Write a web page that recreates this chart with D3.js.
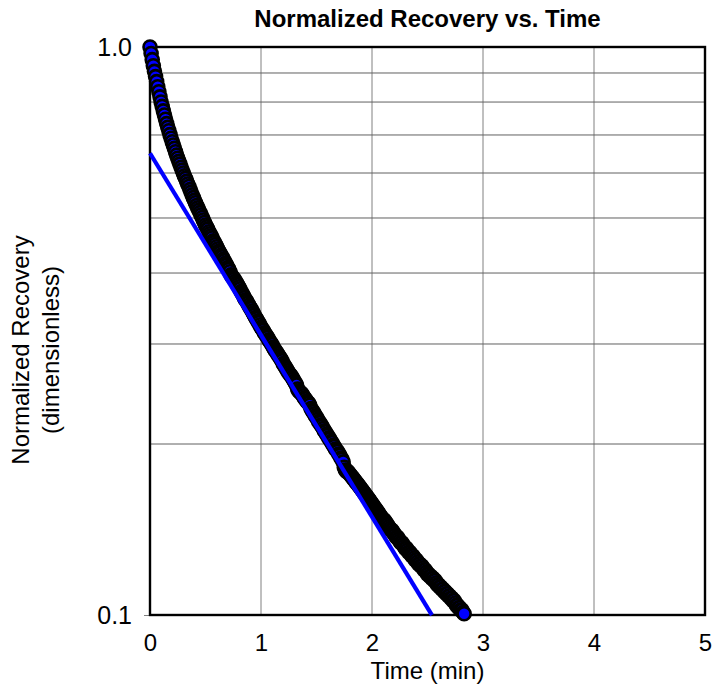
<!DOCTYPE html>
<html>
<head>
<meta charset="utf-8">
<script src="https://cdn.jsdelivr.net/npm/d3@7"></script>
<style>
  body { margin: 0; background: #fff; }
  text { font-family: "Liberation Sans", Arial, sans-serif; fill: #000; }
</style>
</head>
<body>
<script>
// readings were logged every 0.01 min
const sampleStep = 0.01;

// normalized recovery, one row per 0.1 min
const recovery = [
  1.000, 0.974, 0.950, 0.927, 0.906, 0.887, 0.869, 0.851, 0.834, 0.817,
  0.800, 0.786, 0.772, 0.759, 0.746, 0.733, 0.722, 0.712, 0.701, 0.691,
  0.681, 0.672, 0.663, 0.654, 0.645, 0.637, 0.629, 0.622, 0.614, 0.607,
  0.600, 0.593, 0.587, 0.580, 0.574, 0.568, 0.561, 0.555, 0.549, 0.543,
  0.537, 0.532, 0.526, 0.521, 0.516, 0.511, 0.506, 0.501, 0.496, 0.491,
  0.486, 0.482, 0.478, 0.473, 0.469, 0.465, 0.461, 0.456, 0.453, 0.449,
  0.445, 0.441, 0.437, 0.434, 0.430, 0.427, 0.423, 0.420, 0.416, 0.413,
  0.409, 0.406, 0.402, 0.397, 0.394, 0.392, 0.390, 0.387, 0.384, 0.381,
  0.378, 0.375, 0.371, 0.368, 0.365, 0.362, 0.359, 0.357, 0.354, 0.351,
  0.348, 0.346, 0.343, 0.340, 0.337, 0.334, 0.332, 0.329, 0.327, 0.324,
  0.321, 0.319, 0.317, 0.314, 0.312, 0.310, 0.308, 0.305, 0.303, 0.301,
  0.299, 0.296, 0.294, 0.292, 0.290, 0.288, 0.286, 0.284, 0.282, 0.280,
  0.277, 0.275, 0.273, 0.271, 0.269, 0.267, 0.265, 0.264, 0.262, 0.260,
  0.258, 0.256, 0.254, 0.250, 0.248, 0.247, 0.246, 0.245, 0.243, 0.241,
  0.240, 0.238, 0.237, 0.236, 0.234, 0.231, 0.229, 0.228, 0.226, 0.224,
  0.223, 0.221, 0.219, 0.218, 0.216, 0.215, 0.213, 0.211, 0.210, 0.208,
  0.207, 0.205, 0.204, 0.202, 0.201, 0.199, 0.198, 0.196, 0.195, 0.194,
  0.192, 0.191, 0.189, 0.188, 0.186, 0.182, 0.180, 0.179, 0.179, 0.178,
  0.177, 0.176, 0.175, 0.174, 0.173, 0.172, 0.171, 0.170, 0.169, 0.168,
  0.167, 0.166, 0.165, 0.164, 0.163, 0.162, 0.161, 0.160, 0.159, 0.158,
  0.157, 0.156, 0.155, 0.154, 0.153, 0.152, 0.151, 0.150, 0.149, 0.148,
  0.147, 0.147, 0.146, 0.145, 0.144, 0.143, 0.142, 0.141, 0.141, 0.140,
  0.139, 0.138, 0.137, 0.137, 0.136, 0.135, 0.134, 0.134, 0.133, 0.132,
  0.131, 0.131, 0.130, 0.129, 0.129, 0.128, 0.127, 0.127, 0.126, 0.125,
  0.125, 0.124, 0.123, 0.123, 0.122, 0.122, 0.121, 0.120, 0.120, 0.119,
  0.118, 0.118, 0.117, 0.117, 0.116, 0.116, 0.115, 0.115, 0.114, 0.113,
  0.113, 0.112, 0.112, 0.111, 0.111, 0.110, 0.110, 0.109, 0.109, 0.108,
  0.108, 0.107, 0.107, 0.106, 0.106, 0.105, 0.104, 0.104, 0.103, 0.103,
  0.102, 0.102, 0.101, 0.1005
];

// exponential fit  y = fitA * exp(-fitK * t), drawn between these times
const fitA = 0.65;
const fitK = 0.737;
const fitTimes = [0, 2.54];

const xTicks = [0, 1, 2, 3, 4, 5];
const yTicks = [0.1, 1.0];
const yGrid = [0.2, 0.3, 0.4, 0.5, 0.6, 0.7, 0.8, 0.9];

const w = 713;
const h = 690;
const plotLeft = 150, plotRight = 705, plotTop = 47, plotBottom = 615;

const svg = d3.select("body")
  .append("svg")
  .attr("width", w)
  .attr("height", h);

const xScale = d3.scaleLinear().domain([0, 5]).range([plotLeft, plotRight]);
const yScale = d3.scaleLog().domain([0.1, 1]).range([plotBottom, plotTop]);

// grid
svg.append("g")
  .selectAll("line")
  .data(xTicks.slice(1, -1))
  .enter()
  .append("line")
  .attr("x1", d => xScale(d)).attr("x2", d => xScale(d))
  .attr("y1", plotTop).attr("y2", plotBottom)
  .attr("stroke", "#808080")
  .attr("stroke-width", 1);

svg.append("g")
  .selectAll("line")
  .data(yGrid)
  .enter()
  .append("line")
  .attr("x1", plotLeft).attr("x2", plotRight)
  .attr("y1", d => yScale(d)).attr("y2", d => yScale(d))
  .attr("stroke", "#606060")
  .attr("stroke-width", 1);

// axes
const yAxis = d3.axisLeft(yScale)
  .tickValues(yTicks)
  .tickSize(6)
  .tickPadding(12)
  .tickFormat(d3.format(".1f"));

const yAxisGroup = svg.append("g")
  .attr("transform", `translate(${plotLeft}, 0)`)
  .call(yAxis);
yAxisGroup.select(".domain").remove();
yAxisGroup.selectAll(".tick line").attr("stroke", "#808080");
yAxisGroup.selectAll(".tick text")
  .attr("font-size", 25)
  .attr("font-family", "Liberation Sans, Arial, sans-serif");

const xAxis = d3.axisBottom(xScale)
  .tickValues(xTicks)
  .tickSize(0)
  .tickPadding(19)
  .tickFormat(d3.format("d"));

const xAxisGroup = svg.append("g")
  .attr("transform", `translate(0, ${plotBottom})`)
  .call(xAxis);
xAxisGroup.select(".domain").remove();
xAxisGroup.selectAll(".tick text")
  .attr("font-size", 24)
  .attr("font-family", "Liberation Sans, Arial, sans-serif");

// plot frame
svg.append("rect")
  .attr("x", plotLeft).attr("y", plotTop)
  .attr("width", plotRight - plotLeft).attr("height", plotBottom - plotTop)
  .attr("fill", "none")
  .attr("stroke", "#000")
  .attr("stroke-width", 2.4);

// data points
const points = recovery.map((v, i) => ({ t: i * sampleStep, v: v }));

svg.append("g")
  .selectAll("circle")
  .data(points)
  .enter()
  .append("circle")
  .attr("cx", d => xScale(d.t))
  .attr("cy", d => yScale(d.v))
  .attr("r", 6.5)
  .attr("fill", "#0000ff")
  .attr("stroke", "#000")
  .attr("stroke-width", 2.6);

// fitted line
const line = d3.line()
  .x(d => xScale(d))
  .y(d => yScale(fitA * Math.exp(-fitK * d)));

svg.append("path")
  .datum(fitTimes)
  .attr("d", line)
  .attr("fill", "none")
  .attr("stroke", "#0000ff")
  .attr("stroke-width", 4.2);

// titles
svg.append("text")
  .attr("x", (plotLeft + plotRight) / 2)
  .attr("y", 27)
  .attr("text-anchor", "middle")
  .attr("font-size", 24)
  .attr("font-weight", "bold")
  .text("Normalized Recovery vs. Time");

svg.append("text")
  .attr("x", (plotLeft + plotRight) / 2)
  .attr("y", 679)
  .attr("text-anchor", "middle")
  .attr("font-size", 24)
  .text("Time (min)");

const yTitle = svg.append("text")
  .attr("transform", "translate(0, 350) rotate(-90)")
  .attr("text-anchor", "middle")
  .attr("font-size", 24);
yTitle.append("tspan").attr("x", 0).attr("y", 29).text("Normalized Recovery");
yTitle.append("tspan").attr("x", 0).attr("y", 59).text("(dimensionless)");
</script>
</body>
</html>
